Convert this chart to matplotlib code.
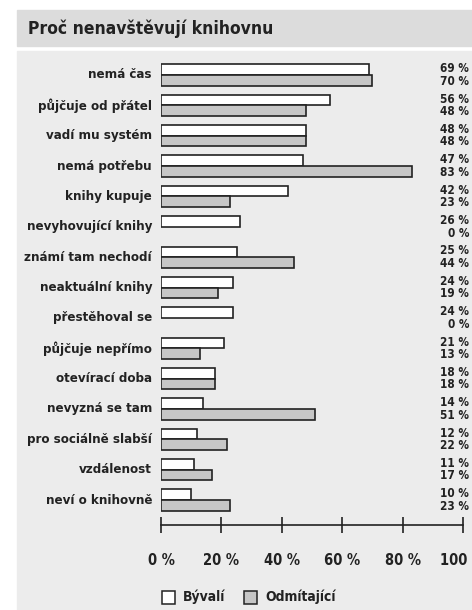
import matplotlib
matplotlib.use("Agg")
import matplotlib.pyplot as plt
from matplotlib.patches import Rectangle
from matplotlib.transforms import blended_transform_factory

plt.rcParams['font.family'] = ['DejaVu Sans']
plt.rcParams['font.stretch'] = 'condensed'

# Data.
categories = [
    "nemá čas", "půjčuje od přátel", "vadí mu systém", "nemá potřebu",
    "knihy kupuje", "nevyhovující knihy", "známí tam nechodí",
    "neaktuální knihy", "přestěhoval se", "půjčuje nepřímo",
    "otevírací doba", "nevyzná se tam", "pro sociálně slabší",
    "vzdálenost", "neví o knihovně",
]
byvali = [69, 56, 48, 47, 42, 26, 25, 24, 24, 21, 18, 14, 12, 11, 10]
odmitajici = [70, 48, 48, 83, 23, 0, 44, 19, 0, 13, 18, 51, 22, 17, 23]
series_names = ["Bývalí", "Odmítající"]
x_ticks = [0, 20, 40, 60, 80, 100]

W, H = 472, 610
fig = plt.figure(figsize=(W / 100, H / 100), dpi=100)
fig.patch.set_facecolor("white")

dark = "#222222"
white_bar = "#ffffff"
gray_bar = "#c6c6c6"


def px(x, y):
    # pixel position (from top-left) to figure fraction
    return x / W, 1 - y / H


# title band and panel background
fig.patches.append(Rectangle((17 / W, 1 - 46 / H), 1, 36 / H,
                             transform=fig.transFigure, color="#dcdcdc", zorder=-10))
fig.patches.append(Rectangle((17 / W, 0), 1, 1 - 51 / H,
                             transform=fig.transFigure, color="#ececec", zorder=-10))
fig.text(*px(28, 29), "Proč nenavštěvují knihovnu", fontsize=12.5,
         fontweight="bold", color=dark, va="center", ha="left")

# axes: x 0 at 161 px, 100 at 463 px; bottom spine at 525 px, top 53 px
left, right = 161, 463
top, bottom = 53, 525
ax = fig.add_axes([left / W, 1 - bottom / H, (right - left) / W, (bottom - top) / H])
ax.set_facecolor("none")

first_center, step = 75, 30.36
ax.set_xlim(0, 100)
ax.set_ylim((bottom - first_center) / step, (top - first_center) / step)

bh = 0.35
ys = list(range(len(categories)))
for vals, col, off in [(byvali, white_bar, -bh / 2), (odmitajici, gray_bar, bh / 2)]:
    edges = [dark if v > 0 else "none" for v in vals]
    ax.barh([y + off for y in ys], vals, height=bh, color=col,
            edgecolor=edges, linewidth=1.2)

for s in ["top", "right", "left"]:
    ax.spines[s].set_visible(False)
ax.spines["bottom"].set_linewidth(1.2)
ax.spines["bottom"].set_color(dark)
ax.set_yticks([])
ax.set_xticks(x_ticks)
ax.set_xticklabels([f"{t} %" for t in x_ticks])
ax.tick_params(axis="x", direction="inout", length=12, width=1.2, color=dark,
               pad=14, labelsize=10.5, labelcolor=dark)
for lbl in ax.get_xticklabels():
    lbl.set_fontweight("bold")

# category labels and values
tr = blended_transform_factory(fig.transFigure, ax.transData)
for y, name, a, b in zip(ys, categories, byvali, odmitajici):
    fig.text(152 / W, y, name, transform=tr, ha="right", va="center",
             fontsize=9.5, fontweight="bold", color=dark)
    ax.text(469 / W, y - bh / 2 - 0.03, f"{a} %", transform=tr, ha="right",
            va="center", fontsize=8.5, fontweight="bold", color=dark, clip_on=False)
    ax.text(469 / W, y + bh / 2 + 0.03, f"{b} %", transform=tr, ha="right",
            va="center", fontsize=8.5, fontweight="bold", color=dark, clip_on=False)

# legend
for (x0, name, col) in [(162, series_names[0], white_bar), (244, series_names[1], gray_bar)]:
    fig.patches.append(Rectangle((x0 / W, 1 - 604 / H), 13 / W, 13 / H,
                                 transform=fig.transFigure, facecolor=col,
                                 edgecolor=dark, linewidth=1.1, zorder=3))
    fig.text((x0 + 21) / W, 1 - 597 / H, name, fontsize=10, fontweight="bold",
             color=dark, va="center", ha="left")

fig.savefig("out.png", dpi=100)
